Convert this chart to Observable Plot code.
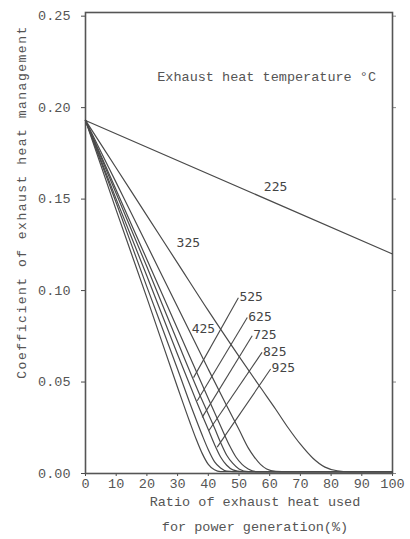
<!DOCTYPE html>
<html>
<head>
<meta charset="utf-8">
<script src="https://cdn.jsdelivr.net/npm/d3@7"></script>
<script src="https://cdn.jsdelivr.net/npm/@observablehq/plot@0.6"></script>
<style>
  html, body { margin: 0; padding: 0; background: #fff; }
  #chart svg { display: block; }
</style>
</head>
<body>
<div id="chart"></div>
<script>
// ---- data ----
const temps = [225, 325, 425, 525, 625, 725, 825, 925];

const x225 = [0, 100];
const y225 = [0.193, 0.120];

const x325 = [0, 10, 20, 30, 40, 50, 57, 62, 66, 70, 74, 78, 82, 86, 100];
const y325 = [0.193, 0.167, 0.141, 0.115, 0.089, 0.064, 0.047, 0.035, 0.025, 0.016, 0.0085, 0.0035, 0.0015, 0.001, 0.001];

const x425 = [0, 10, 20, 30, 40, 46, 50, 53, 55, 57, 59, 62, 66, 100];
const y425 = [0.193, 0.159, 0.125, 0.091, 0.057, 0.037, 0.024, 0.014, 0.009, 0.005, 0.0025, 0.0012, 0.001, 0.001];

const x525 = [0, 10, 20, 30, 40, 44, 47, 49, 51, 53, 56, 100];
const y525 = [0.193, 0.155, 0.117, 0.079, 0.041, 0.026, 0.015, 0.009, 0.005, 0.0025, 0.001, 0.001];

const x625 = [0, 10, 20, 30, 38, 42, 44, 46, 48, 50, 53, 100];
const y625 = [0.193, 0.153, 0.113, 0.072, 0.040, 0.025, 0.017, 0.010, 0.0055, 0.0025, 0.001, 0.001];

const x725 = [0, 10, 20, 30, 36, 40, 42, 44, 46, 48, 51, 100];
const y725 = [0.193, 0.150, 0.108, 0.065, 0.040, 0.024, 0.016, 0.009, 0.0045, 0.002, 0.001, 0.001];

const x825 = [0, 10, 20, 30, 35, 38, 40, 42, 44, 46, 50, 100];
const y825 = [0.193, 0.148, 0.102, 0.057, 0.034, 0.021, 0.013, 0.0065, 0.003, 0.0013, 0.001, 0.001];

const x925 = [0, 10, 20, 30, 34, 36, 38, 40, 42, 44, 100];
const y925 = [0.193, 0.144, 0.096, 0.047, 0.028, 0.019, 0.011, 0.005, 0.002, 0.001, 0.001];

// curve labels written directly beside curves
const plainLabelTemps = [225, 325, 425];
const plainLabelX = [61.9, 33.5, 38.4];
const plainLabelY = [0.1567, 0.126, 0.079];

// curve labels with leader lines
const leaderTemps = [525, 625, 725, 825, 925];
const leaderTopX = [49.8, 52.7, 54.3, 57.5, 60.3];
const leaderTopY = [0.0961, 0.0853, 0.0753, 0.0662, 0.0571];
const leaderEndX = [35.2, 36.4, 38.0, 40.2, 42.9];
const leaderEndY = [0.0524, 0.0398, 0.0307, 0.0235, 0.0144];

const xTicks = [0, 10, 20, 30, 40, 50, 60, 70, 80, 90, 100];
const yTicks = [0, 0.05, 0.10, 0.15, 0.20, 0.25];

const legendTitle = "Exhaust heat temperature °C";
const legendX = 59;
const legendY = 0.2167;
const xTitleLines = ["Ratio of exhaust heat used", "for power generation(%)"];
const yTitle = "Coefficient of exhaust heat management";

// ---- build tables ----
const seriesX = {225: x225, 325: x325, 425: x425, 525: x525, 625: x625, 725: x725, 825: x825, 925: x925};
const seriesY = {225: y225, 325: y325, 425: y425, 525: y525, 625: y625, 725: y725, 825: y825, 925: y925};
const table = temps.flatMap(t => seriesX[t].map((x, i) => ({temp: t, x, y: seriesY[t][i]})));
const plainLabels = plainLabelTemps.map((t, i) => ({t, x: plainLabelX[i], y: plainLabelY[i]}));
const leaders = leaderTemps.map((t, i) => ({t, x1: leaderEndX[i], y1: leaderEndY[i], x2: leaderTopX[i], y2: leaderTopY[i]}));

const ink = "#4a4a4a";
const font = "Liberation Mono, DejaVu Sans Mono, monospace";

const chart = Plot.plot({
  width: 410,
  height: 539,
  marginLeft: 85,
  marginRight: 18,
  marginTop: 12,
  marginBottom: 66,
  style: {fontFamily: font, fontSize: "13px", color: "#555", background: "#fff"},
  x: {domain: [0, 100]},
  y: {domain: [0, 0.252]},
  marks: [
    Plot.axisY({ticks: yTicks, tickFormat: d3.format(".2f"), tickSize: 4, tickPadding: 11, label: null, stroke: ink, fontSize: 13.5}),
    Plot.axisY({anchor: "right", ticks: yTicks, tickFormat: () => "", tickSize: 3, label: null, stroke: "#888"}),
    Plot.axisX({ticks: xTicks, tickFormat: d => String(d), tickSize: 3, tickPadding: 2, label: null, stroke: ink, fontSize: 13.5}),
    Plot.frame({stroke: "#555", strokeWidth: 1.6}),
    Plot.line(table, {x: "x", y: "y", z: "temp", curve: "monotone-x", stroke: ink, strokeWidth: 1.2}),
    Plot.link(leaders, {x1: "x1", y1: "y1", x2: "x2", y2: "y2", stroke: ink, strokeWidth: 1.1}),
    Plot.text(leaders, {x: "x2", y: "y2", text: d => String(d.t), textAnchor: "start", dx: 1, dy: -1, fill: "#444", fontSize: 13, fontFamily: "DejaVu Sans Mono"}),
    Plot.text(plainLabels, {x: "x", y: "y", text: d => String(d.t), fill: "#444", fontSize: 13, fontFamily: "DejaVu Sans Mono"}),
    Plot.text([legendTitle], {x: () => legendX, y: () => legendY, text: d => d, fill: "#555", fontSize: 13.5})
  ]
});

// axis titles placed in the margins of the same SVG
const svg = d3.select(chart);
const xt = svg.append("text")
  .attr("font-family", font).attr("font-size", 13.5).attr("fill", "#555")
  .attr("text-anchor", "middle");
xt.selectAll("tspan").data(xTitleLines).join("tspan")
  .attr("x", 255).attr("y", (d, i) => 506 + i * 25).text(d => d);

svg.append("text")
  .attr("font-family", font).attr("font-size", 13).attr("fill", "#555")
  .attr("text-anchor", "middle")
  .attr("letter-spacing", "1.5px")
  .attr("transform", "translate(26,202) rotate(-90)")
  .text(yTitle);

document.getElementById("chart").appendChild(chart);
</script>
</body>
</html>
